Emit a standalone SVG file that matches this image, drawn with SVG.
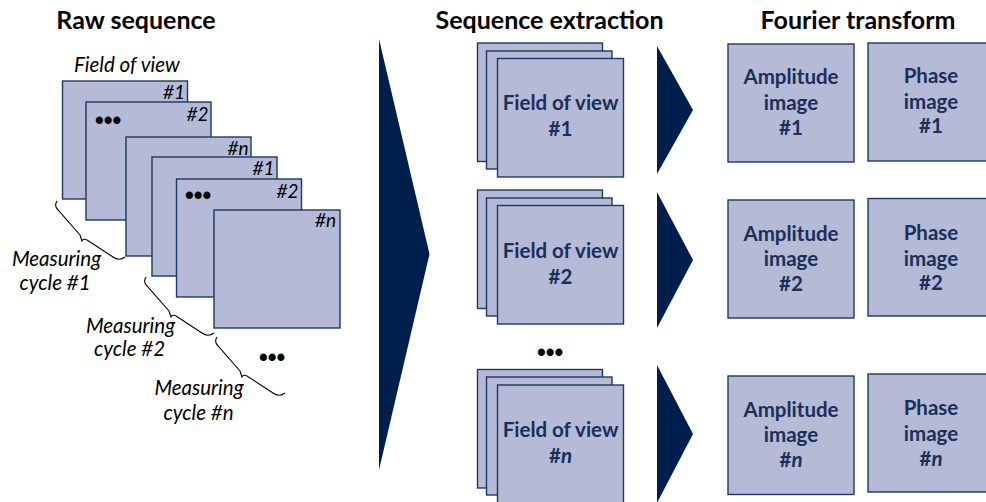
<svg xmlns="http://www.w3.org/2000/svg" width="986" height="502" viewBox="0 0 986 502">
  <style>
    .frame { fill: #B5BAD7; stroke: #1F3864; stroke-width: 1.4; }
    .title { font-family: Lato, "Liberation Sans", sans-serif; font-weight: bold; font-size: 25px; fill: #000; text-anchor: middle; }
    .lbl { font-family: Lato, "Liberation Sans", sans-serif; font-style: italic; font-size: 20.5px; fill: #000; }
    .tag { font-family: Lato, "Liberation Sans", sans-serif; font-style: italic; font-size: 19px; fill: #000; text-anchor: end; }
    .box { font-family: Lato, "Liberation Sans", sans-serif; font-weight: bold; font-size: 20.5px; fill: #1A2F5A; text-anchor: middle; }
    .dots { font-family: "Liberation Sans", sans-serif; font-weight: bold; font-size: 25px; fill: #000; }
    .brace { fill: none; stroke: #000; stroke-width: 1.1; }
    .arrow { fill: #001E4C; }
  </style>
  <defs>
    <path id="brace" class="brace" d="M57,201 C55,204 55,207 58,210 L80,235 C81,237 81,239 82,241 C83,239 85,239 87,240 L113,257 C117,260 121,260 125,257"/>
  </defs>

  <!-- Column titles -->
  <text class="title" x="136" y="29">Raw sequence</text>
  <text class="title" x="549.5" y="29">Sequence extraction</text>
  <text class="title" x="858" y="29">Fourier transform</text>

  <!-- Raw sequence: frames of successive measuring cycles -->
  <g id="raw-sequence">
    <text class="lbl" x="127" y="72" text-anchor="middle">Field of view</text>
    <g id="raw-frame-1">
      <rect class="frame" x="62.5" y="81" width="125" height="118"/>
      <text class="tag" x="185" y="99">#1</text>
    </g>
    <g id="raw-frame-2">
      <rect class="frame" x="86" y="102" width="125" height="118"/>
      <text class="tag" x="208.5" y="120.5">#2</text>
      <text class="dots" x="95" y="128.5">•••</text>
    </g>
    <g id="raw-frame-3">
      <rect class="frame" x="126" y="137" width="125" height="119"/>
      <text class="tag" x="248.5" y="155">#n</text>
    </g>
    <g id="raw-frame-4">
      <rect class="frame" x="152" y="157" width="125" height="119"/>
      <text class="tag" x="274.5" y="175">#1</text>
    </g>
    <g id="raw-frame-5">
      <rect class="frame" x="176.5" y="179" width="125" height="118"/>
      <text class="tag" x="298.5" y="198">#2</text>
      <text class="dots" x="185" y="203.5">•••</text>
    </g>
    <g id="raw-frame-6">
      <rect class="frame" x="214" y="210" width="126" height="118"/>
      <text class="tag" x="336" y="227">#n</text>
    </g>

    <!-- Measuring cycle braces -->
    <g id="cycle-1">
      <use href="#brace"/>
      <text class="lbl" x="56.5" y="265.5" text-anchor="middle">Measuring</text>
      <text class="lbl" x="55" y="290" text-anchor="middle">cycle #1</text>
    </g>
    <g id="cycle-2">
      <use href="#brace" transform="translate(89,76)"/>
      <text class="lbl" x="130.5" y="333" text-anchor="middle">Measuring</text>
      <text class="lbl" x="129.5" y="356" text-anchor="middle">cycle #2</text>
    </g>
    <text class="dots" x="259" y="365.5">•••</text>
    <g id="cycle-n">
      <use href="#brace" transform="translate(160,136)"/>
      <text class="lbl" x="199" y="395" text-anchor="middle">Measuring</text>
      <text class="lbl" x="198.5" y="419.5" text-anchor="middle">cycle #n</text>
    </g>
  </g>

  <!-- Process arrows -->
  <g id="connectors">
    <polygon class="arrow" points="379,39 429.5,254 379,470"/>
    <polygon class="arrow" points="657,46 693,110 657,174"/>
    <polygon class="arrow" points="657,192 693,260 657,328"/>
    <polygon class="arrow" points="657,365 693,434 657,503"/>
  </g>

  <!-- Extracted sequences, one stack per field of view -->
  <g id="stack-1">
    <rect class="frame" x="477.5" y="43" width="125" height="118.5"/>
    <rect class="frame" x="486.5" y="51" width="125.5" height="118"/>
    <rect class="frame" x="497.5" y="58.5" width="126" height="118.5"/>
    <text class="box" x="560.5" y="110">Field of view</text>
    <text class="box" x="560.5" y="136">#1</text>
  </g>
  <g id="stack-2">
    <rect class="frame" x="477.5" y="190" width="125" height="118.5"/>
    <rect class="frame" x="486.5" y="198" width="125.5" height="118"/>
    <rect class="frame" x="497.5" y="205.5" width="126" height="118.5"/>
    <text class="box" x="560.5" y="258">Field of view</text>
    <text class="box" x="560.5" y="284">#2</text>
  </g>
  <text class="dots" x="537" y="360.5">•••</text>
  <g id="stack-n">
    <rect class="frame" x="477.5" y="369.5" width="125" height="118.5"/>
    <rect class="frame" x="486.5" y="377" width="125.5" height="118"/>
    <rect class="frame" x="497.5" y="385" width="126" height="118.5"/>
    <text class="box" x="560.5" y="437">Field of view</text>
    <text class="box" x="560.5" y="463">#<tspan font-style="italic">n</tspan></text>
  </g>

  <!-- Fourier transform results -->
  <g id="amplitude-1">
    <rect class="frame" x="728" y="44" width="126" height="118"/>
    <text class="box" x="791" y="84">Amplitude</text>
    <text class="box" x="791" y="109.5">image</text>
    <text class="box" x="791" y="134.5">#1</text>
  </g>
  <g id="phase-1">
    <rect class="frame" x="868" y="43" width="126" height="118"/>
    <text class="box" x="931" y="82.5">Phase</text>
    <text class="box" x="931" y="108.5">image</text>
    <text class="box" x="931" y="133">#1</text>
  </g>
  <g id="amplitude-2">
    <rect class="frame" x="728" y="200" width="126" height="118"/>
    <text class="box" x="791" y="240.5">Amplitude</text>
    <text class="box" x="791" y="266">image</text>
    <text class="box" x="791" y="291">#2</text>
  </g>
  <g id="phase-2">
    <rect class="frame" x="868" y="198.5" width="126" height="117.5"/>
    <text class="box" x="931" y="239.5">Phase</text>
    <text class="box" x="931" y="265.5">image</text>
    <text class="box" x="931" y="290">#2</text>
  </g>
  <g id="amplitude-n">
    <rect class="frame" x="728" y="376" width="126" height="118.5"/>
    <text class="box" x="791" y="416.5">Amplitude</text>
    <text class="box" x="791" y="442">image</text>
    <text class="box" x="791" y="467">#<tspan font-style="italic">n</tspan></text>
  </g>
  <g id="phase-n">
    <rect class="frame" x="868" y="374" width="126" height="118"/>
    <text class="box" x="931" y="415">Phase</text>
    <text class="box" x="931" y="441">image</text>
    <text class="box" x="931" y="465.5">#<tspan font-style="italic">n</tspan></text>
  </g>
</svg>
